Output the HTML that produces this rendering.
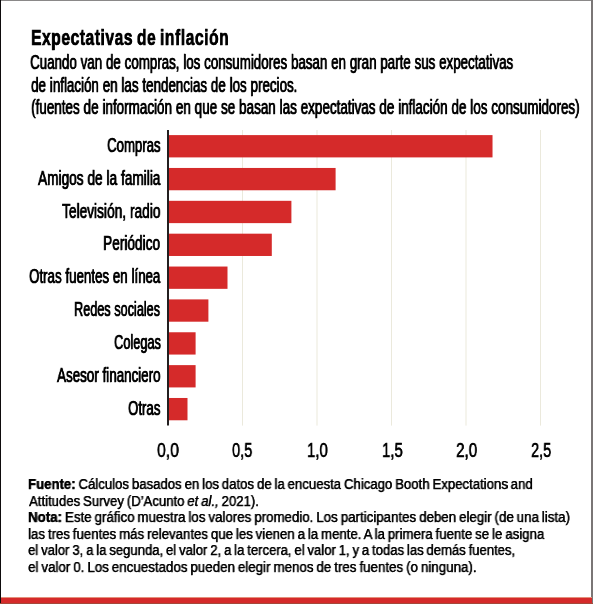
<!DOCTYPE html>
<html><head><meta charset="utf-8"><style>
html,body{margin:0;padding:0;background:#fff;width:593px;height:604px;overflow:hidden}
body{position:relative;font-family:"Liberation Sans", sans-serif;color:#000}
.t{position:absolute;white-space:nowrap;transform-origin:0 0;will-change:transform;}
</style></head><body>
<svg width="593" height="604" style="position:absolute;left:0;top:0"><rect x="242.00" y="130" width="1" height="295.6" fill="#ebe9dc"/><rect x="316.50" y="130" width="1" height="295.6" fill="#ebe9dc"/><rect x="391.00" y="130" width="1" height="295.6" fill="#ebe9dc"/><rect x="465.50" y="130" width="1" height="295.6" fill="#ebe9dc"/><rect x="540.00" y="130" width="1" height="295.6" fill="#ebe9dc"/><rect x="169" y="135.10" width="323.52" height="22.3" fill="#d52a2a"/><rect x="169" y="167.96" width="166.60" height="22.3" fill="#d52a2a"/><rect x="169" y="200.82" width="122.40" height="22.3" fill="#d52a2a"/><rect x="169" y="233.68" width="102.80" height="22.3" fill="#d52a2a"/><rect x="169" y="266.54" width="58.50" height="22.3" fill="#d52a2a"/><rect x="169" y="299.40" width="39.40" height="22.3" fill="#d52a2a"/><rect x="169" y="332.26" width="26.60" height="22.3" fill="#d52a2a"/><rect x="169" y="365.12" width="26.60" height="22.3" fill="#d52a2a"/><rect x="169" y="397.98" width="18.50" height="22.3" fill="#d52a2a"/><rect x="167" y="130" width="2" height="295.5" fill="#231f20"/><rect x="0" y="0" width="593" height="1" fill="#8a8888"/><rect x="0" y="0" width="1" height="604" fill="#0e0b0c"/><rect x="591" y="0" width="2" height="604" fill="#7a7676"/><rect x="1" y="597" width="591" height="1" fill="#e4907c"/><rect x="1" y="598" width="591" height="5" fill="#d52a2a"/><rect x="0" y="603" width="593" height="1" fill="#a4483a"/></svg>
<div class="t" style="left:30.64px;top:26.00px;font-size:22.9px;line-height:22.9px;font-weight:700;transform:scaleX(0.6818);-webkit-text-stroke:0.6px #000;word-spacing:-1.5px;letter-spacing:0.8px;text-shadow:0.4px 0 0 #000">Expectativas de inflación</div><div class="t" style="left:30.42px;top:53.00px;font-size:19.5px;line-height:19.5px;font-weight:400;transform:scaleX(0.6835);-webkit-text-stroke:0.7px #000;word-spacing:0.2px;text-shadow:0.6px 0 0 #000">Cuando van de compras, los consumidores basan en gran parte sus expectativas</div><div class="t" style="left:30.71px;top:75.70px;font-size:19.5px;line-height:19.5px;font-weight:400;transform:scaleX(0.6855);-webkit-text-stroke:0.7px #000;word-spacing:0.2px;text-shadow:0.6px 0 0 #000">de inflación en las tendencias de los precios.</div><div class="t" style="left:30.71px;top:98.30px;font-size:19.5px;line-height:19.5px;font-weight:400;transform:scaleX(0.6899);-webkit-text-stroke:0.7px #000;word-spacing:0.2px;text-shadow:0.6px 0 0 #000">(fuentes de información en que se basan las expectativas de inflación de los consumidores)</div><div class="t" style="left:107.32px;top:135.80px;font-size:19.5px;line-height:19.5px;font-weight:400;transform:scaleX(0.6753);-webkit-text-stroke:0.7px #000;word-spacing:0.2px;text-shadow:0.6px 0 0 #000">Compras</div><div class="t" style="left:37.80px;top:168.66px;font-size:19.5px;line-height:19.5px;font-weight:400;transform:scaleX(0.6983);-webkit-text-stroke:0.7px #000;word-spacing:0.2px;text-shadow:0.6px 0 0 #000">Amigos de la familia</div><div class="t" style="left:62.40px;top:201.52px;font-size:19.5px;line-height:19.5px;font-weight:400;transform:scaleX(0.7022);-webkit-text-stroke:0.7px #000;word-spacing:0.2px;text-shadow:0.6px 0 0 #000">Televisión, radio</div><div class="t" style="left:103.30px;top:234.38px;font-size:19.5px;line-height:19.5px;font-weight:400;transform:scaleX(0.7000);-webkit-text-stroke:0.7px #000;word-spacing:0.2px;text-shadow:0.6px 0 0 #000">Periódico</div><div class="t" style="left:29.12px;top:267.24px;font-size:19.5px;line-height:19.5px;font-weight:400;transform:scaleX(0.6817);-webkit-text-stroke:0.7px #000;word-spacing:0.2px;text-shadow:0.6px 0 0 #000">Otras fuentes en línea</div><div class="t" style="left:74.40px;top:300.10px;font-size:19.5px;line-height:19.5px;font-weight:400;transform:scaleX(0.6485);-webkit-text-stroke:0.7px #000;word-spacing:0.2px;text-shadow:0.6px 0 0 #000">Redes sociales</div><div class="t" style="left:113.55px;top:332.96px;font-size:19.5px;line-height:19.5px;font-weight:400;transform:scaleX(0.6543);-webkit-text-stroke:0.7px #000;word-spacing:0.2px;text-shadow:0.6px 0 0 #000">Colegas</div><div class="t" style="left:57.20px;top:365.82px;font-size:19.5px;line-height:19.5px;font-weight:400;transform:scaleX(0.6853);-webkit-text-stroke:0.7px #000;word-spacing:0.2px;text-shadow:0.6px 0 0 #000">Asesor financiero</div><div class="t" style="left:128.22px;top:398.68px;font-size:19.5px;line-height:19.5px;font-weight:400;transform:scaleX(0.6761);-webkit-text-stroke:0.7px #000;word-spacing:0.2px;text-shadow:0.6px 0 0 #000">Otras</div><div class="t" style="left:157.29px;top:440.90px;font-size:19.5px;line-height:19.5px;font-weight:400;transform:scaleX(0.8080);-webkit-text-stroke:0.5px #000;word-spacing:0.2px;text-shadow:0.2px 0 0 #000">0,0</div><div class="t" style="left:232.35px;top:440.90px;font-size:19.5px;line-height:19.5px;font-weight:400;transform:scaleX(0.7480);-webkit-text-stroke:0.5px #000;word-spacing:0.2px;text-shadow:0.2px 0 0 #000">0,5</div><div class="t" style="left:307.24px;top:440.90px;font-size:19.5px;line-height:19.5px;font-weight:400;transform:scaleX(0.7640);-webkit-text-stroke:0.5px #000;word-spacing:0.2px;text-shadow:0.2px 0 0 #000">1,0</div><div class="t" style="left:381.84px;top:440.90px;font-size:19.5px;line-height:19.5px;font-weight:400;transform:scaleX(0.7640);-webkit-text-stroke:0.5px #000;word-spacing:0.2px;text-shadow:0.2px 0 0 #000">1,5</div><div class="t" style="left:455.72px;top:440.90px;font-size:19.5px;line-height:19.5px;font-weight:400;transform:scaleX(0.7800);-webkit-text-stroke:0.5px #000;word-spacing:0.2px;text-shadow:0.2px 0 0 #000">2,0</div><div class="t" style="left:530.86px;top:440.90px;font-size:19.5px;line-height:19.5px;font-weight:400;transform:scaleX(0.7440);-webkit-text-stroke:0.5px #000;word-spacing:0.2px;text-shadow:0.2px 0 0 #000">2,5</div><div class="t" style="left:28.06px;top:476.90px;font-size:14.0px;line-height:14.0px;font-weight:400;transform:scaleX(0.9402);-webkit-text-stroke:0.25px #000;word-spacing:-0.8px;text-shadow:0.2px 0 0 #000"><b>Fuente:</b> Cálculos basados en los datos de la encuesta Chicago Booth Expectations and</div><div class="t" style="left:29.00px;top:493.90px;font-size:14.0px;line-height:14.0px;font-weight:400;transform:scaleX(0.9377);-webkit-text-stroke:0.25px #000;word-spacing:-0.8px;text-shadow:0.2px 0 0 #000">Attitudes Survey (D’Acunto <i>et al.,</i> 2021).</div><div class="t" style="left:28.05px;top:510.10px;font-size:14.0px;line-height:14.0px;font-weight:400;transform:scaleX(0.9504);-webkit-text-stroke:0.25px #000;word-spacing:-0.8px;text-shadow:0.2px 0 0 #000"><b>Nota:</b> Este gráfico muestra los valores promedio. Los participantes deben elegir (de una lista)</div><div class="t" style="left:28.06px;top:526.70px;font-size:14.0px;line-height:14.0px;font-weight:400;transform:scaleX(0.9441);-webkit-text-stroke:0.25px #000;word-spacing:-0.8px;text-shadow:0.2px 0 0 #000">las tres fuentes más relevantes que les vienen a la mente. A la primera fuente se le asigna</div><div class="t" style="left:28.07px;top:543.40px;font-size:14.0px;line-height:14.0px;font-weight:400;transform:scaleX(0.9335);-webkit-text-stroke:0.25px #000;word-spacing:-0.8px;text-shadow:0.2px 0 0 #000">el valor 3, a la segunda, el valor 2, a la tercera, el valor 1, y a todas las demás fuentes,</div><div class="t" style="left:28.05px;top:559.60px;font-size:14.0px;line-height:14.0px;font-weight:400;transform:scaleX(0.9530);-webkit-text-stroke:0.25px #000;word-spacing:-0.8px;text-shadow:0.2px 0 0 #000">el valor 0. Los encuestados pueden elegir menos de tres fuentes (o ninguna).</div>
</body></html>
